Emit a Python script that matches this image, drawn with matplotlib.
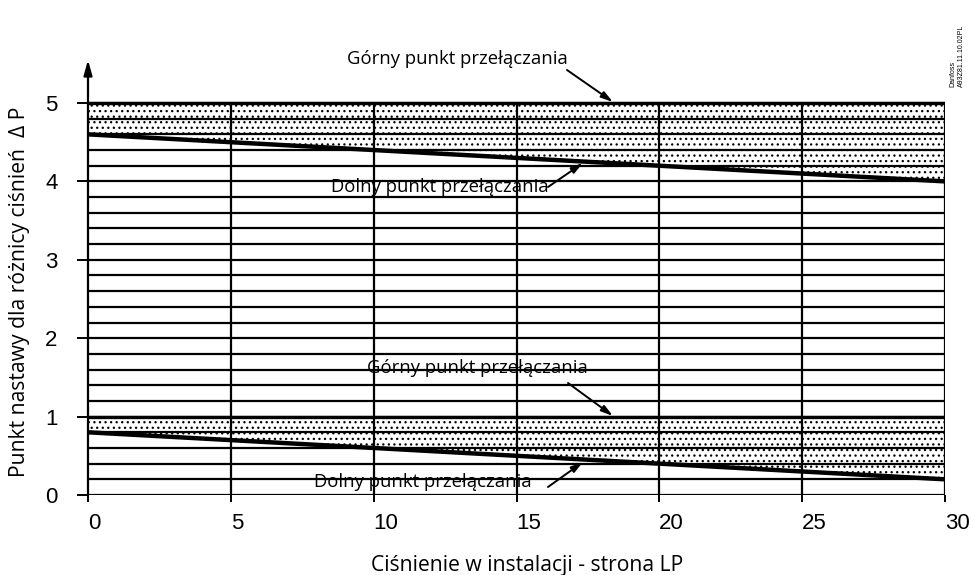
import matplotlib
matplotlib.use("Agg")
import matplotlib.pyplot as plt
import numpy as np

# ---- data ----
x_ticks = [0, 5, 10, 15, 20, 25, 30]
y_ticks = [0, 1, 2, 3, 4, 5]
x_range = [0, 30]
upper_top = [5.0, 5.0]
upper_bottom = [4.6, 4.0]
lower_top = [1.0, 1.0]
lower_bottom = [0.8, 0.2]
grid_h = [round(0.2 * i, 1) for i in range(26)]
grid_v = [5, 10, 15, 20, 25, 30]

label_text_top = "Górny punkt przełączania"
label_text_bot = "Dolny punkt przełączania"
xlabel = "Ciśnienie w instalacji - strona LP"
ylabel = "Punkt nastawy dla różnicy ciśnień  Δ P"

plt.rcParams["hatch.linewidth"] = 0.9

W, H = 975, 575
fig = plt.figure(figsize=(W / 100, H / 100), dpi=100)
px_per_unit_x = (945 - 88) / 30
px_per_unit_y = (495 - 103) / 5
ymax = 5.6
ax = fig.add_axes([88 / W, (H - 495) / H, (945 - 88) / W, ymax * px_per_unit_y / H])
ax.set_xlim(0, 30)
ax.set_ylim(0, ymax)
for s in ax.spines.values():
    s.set_visible(False)

lab_font = ["Open Sans", "DejaVu Sans"]
tick_font = ["Liberation Sans", "DejaVu Sans"]

# hatched bands
for top, bot in [(upper_top, upper_bottom), (lower_top, lower_bottom)]:
    ax.fill_between(x_range, bot, top, facecolor="white", edgecolor="black",
                    hatch="...", linewidth=0, zorder=1)

# grid
for gy in grid_h:
    ax.plot(x_range, [gy, gy], color="black", lw=1.6, zorder=2, solid_capstyle="butt")
for gx in grid_v:
    ax.plot([gx, gx], [0, 5], color="black", lw=1.6, zorder=2, solid_capstyle="butt")

# emphasised lines
ax.plot(x_range, upper_top, color="black", lw=2.4, zorder=3)
ax.plot(x_range, lower_top, color="black", lw=2.4, zorder=3)
ax.plot(x_range, upper_bottom, color="black", lw=3.2, zorder=3, solid_capstyle="butt")
ax.plot(x_range, lower_bottom, color="black", lw=3.2, zorder=3, solid_capstyle="butt")

# y axis with arrow
ax.annotate("", xy=(0, 5.55), xytext=(0, 0),
            arrowprops=dict(arrowstyle="-|>,head_length=0.9,head_width=0.25",
                            color="black", lw=1.6, shrinkA=0, shrinkB=0), zorder=4)

# ticks
ax.set_xticks(x_ticks)
ax.set_yticks(y_ticks)
ax.tick_params(axis="x", direction="out", length=5, width=1.4, pad=8)
ax.tick_params(axis="y", direction="out", length=8, width=1.4, pad=14)
ax.set_xticklabels([str(v) for v in x_ticks], fontsize=16, family=tick_font, ha="left")
ax.set_yticklabels([str(v) for v in y_ticks], fontsize=16, family=tick_font)


def px2data(px, py):
    return ((px - 88) / px_per_unit_x, (495 - py) / px_per_unit_y)


def note(text, tx, ty, ax0, ay0, ax1, ay1):
    ax.text(*px2data(tx, ty), text, fontsize=13.3, family=lab_font,
            ha="center", va="center", zorder=5)
    ax.annotate("", xy=px2data(ax1, ay1), xytext=px2data(ax0, ay0),
                arrowprops=dict(arrowstyle="-|>,head_length=0.7,head_width=0.2",
                                color="black", lw=1.4, shrinkA=0, shrinkB=0),
                zorder=5, annotation_clip=False)


note(label_text_top, 457, 59, 567, 70, 613, 102)
note(label_text_bot, 440, 187, 548, 187, 583, 163)
note(label_text_top, 477, 368, 568, 383, 613, 416)
note(label_text_bot, 423, 482, 548, 487, 583, 462)

fig.text(527 / W, 1 - 565 / H, xlabel, fontsize=15.2, family=lab_font, ha="center", va="center")
fig.text(20 / W, 1 - 292 / H, ylabel, fontsize=15.2, family=lab_font, ha="center",
         va="center", rotation=90)

fig.text(953 / W, 1 - 87 / H, "Danfoss", fontsize=5, family=tick_font, rotation=90,
         ha="center", va="bottom")
fig.text(961 / W, 1 - 87 / H, "A93Z81.11.10.02PL", fontsize=5, family=tick_font,
         rotation=90, ha="center", va="bottom")

fig.savefig("out.png", dpi=100)
